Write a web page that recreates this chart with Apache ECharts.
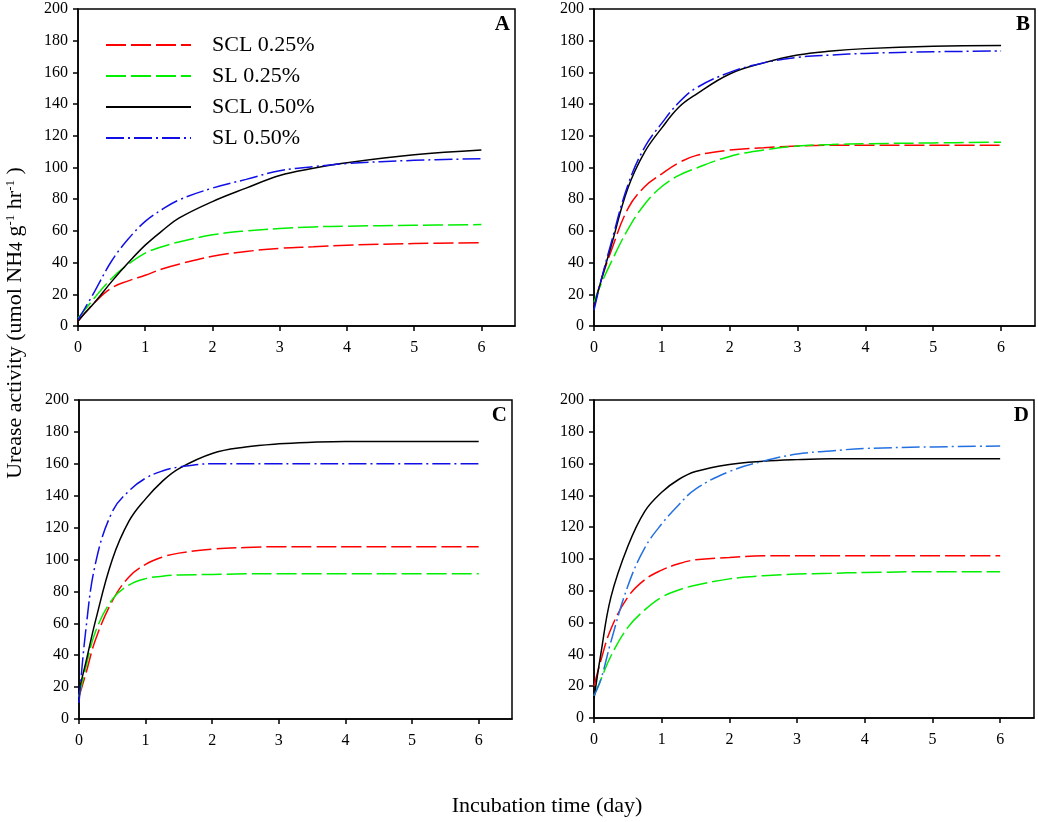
<!DOCTYPE html>
<html>
<head>
<meta charset="utf-8">
<script src="https://cdn.jsdelivr.net/npm/echarts@6/dist/echarts.min.js"></script>
<style>
  html, body { margin: 0; padding: 0; background: #fff; }
  #chart { width: 1038px; height: 822px; }
</style>
</head>
<body>
<div id="chart"></div>
<script>
// sampling days shared by every curve
var days = [0, 0.1, 0.25, 0.5, 0.75, 1, 1.25, 1.5, 2, 2.5, 3, 3.5, 4, 5, 6];
var xTicks = [0, 1, 2, 3, 4, 5, 6];
var names = ['SCL 0.25%', 'SL 0.25%', 'SCL 0.50%', 'SL 0.50%'];
var panelLetters = ['A', 'B', 'C', 'D'];

// panel A
var aScl25 = [3, 8, 15, 24, 28.5, 32, 36, 39, 44, 47, 49, 50, 51, 52, 52.5];
var aSl25  = [5, 10, 18, 30, 39, 46, 50, 53, 57.5, 60, 61.5, 62.5, 63, 63.5, 64];
var aScl50 = [3, 8, 15, 28, 40, 51, 60, 68, 78.5, 87, 95, 99.5, 103, 108, 111];
var aSl50  = [4, 11, 22, 41, 55, 66, 73.5, 79.5, 87, 92.5, 98, 100.5, 102.5, 104.5, 105.5];
// panel B
var bScl25 = [13, 28, 47, 74, 88, 96, 103, 107.5, 111, 112.5, 113.5, 114, 114, 114, 114];
var bSl25  = [15, 26, 40, 61, 77, 88, 95, 99.5, 107, 111, 113.5, 114.5, 115, 115.5, 116];
var bScl50 = [12, 28, 50, 87, 110, 125, 138, 146, 159, 166, 171, 173.5, 175, 176.5, 177];
var bSl50  = [10, 28, 52, 89, 113, 128, 141, 150, 160, 166, 169.5, 171, 172, 173, 173.5];
// panel C
var cScl25 = [14, 28, 50, 74, 89, 97, 101.5, 104, 106.5, 107.5, 108, 108, 108, 108, 108];
var cSl25  = [14, 32, 55, 75, 84, 88, 89.5, 90.3, 90.6, 91, 91, 91, 91, 91, 91];
var cScl50 = [18, 35, 62, 100, 124, 138, 149, 157, 166.5, 170.5, 172.5, 173.5, 174, 174, 174];
var cSl50  = [10, 55, 98, 130, 143, 151, 155.5, 158, 160, 160, 160, 160, 160, 160, 160];
// panel D
var dScl25 = [20, 36, 56, 76, 87, 93, 97, 99.5, 101, 102, 102, 102, 102, 102, 102];
var dSl25  = [14, 24, 39, 57, 68, 76, 80.5, 83.5, 87.5, 89.5, 90.5, 91, 91.5, 92, 92];
var dScl50 = [12, 40, 76, 108, 130, 142, 150, 155, 159.5, 161.5, 162.5, 163, 163, 163, 163];
var dSl50  = [14, 24, 48, 83, 107, 122, 134, 144, 155, 161.5, 166, 168, 169.5, 170.5, 171];

var panels = [
  [aScl25, aSl25, aScl50, aSl50],
  [bScl25, bSl25, bScl50, bSl50],
  [cScl25, cSl25, cScl50, cSl50],
  [dScl25, dSl25, dScl50, dSl50]
];

var serif = "'Liberation Serif', 'Times New Roman', serif";

// plot boxes in pixels
var grids = [
  { left: 78,  top: 9,   width: 437, height: 317 },
  { left: 594, top: 9,   width: 441, height: 317 },
  { left: 79,  top: 400, width: 433, height: 319 },
  { left: 594, top: 400, width: 440, height: 318 }
];

var styles = [
  { color: '#ff0000', type: [20, 5] },
  { color: '#00ee00', type: [20, 5] },
  { color: '#000000', type: 'solid' },
  { color: '#1010e6', type: [18, 4, 2, 4] }
];

var myChart = echarts.init(document.getElementById('chart'));

var option = {
  animation: false,
  legend: {
    orient: 'vertical',
    left: 100,
    top: 29,
    itemWidth: 85,
    itemHeight: 14,
    itemGap: 9,
    data: names,
    itemStyle: { opacity: 0 },
    textStyle: { fontFamily: serif, fontSize: 22, color: '#000', padding: [0, 0, 0, 16] }
  },
  grid: grids.map(function (g) {
    return { left: g.left, top: g.top, width: g.width, height: g.height,
      show: true, borderColor: '#000', borderWidth: 1.5, backgroundColor: 'transparent' };
  }),
  xAxis: grids.map(function (g, i) {
    return {
      type: 'value', gridIndex: i, min: 0, max: 6.5, interval: 1,
      splitLine: { show: false },
      axisLine: { onZero: false, lineStyle: { color: '#000', width: 1.5 } },
      axisTick: { customValues: xTicks, length: 5, lineStyle: { color: '#000', width: 1.5 } },
      axisLabel: { customValues: xTicks, margin: 14, fontFamily: serif, fontSize: 16, color: '#000' }
    };
  }),
  yAxis: grids.map(function (g, i) {
    return {
      type: 'value', gridIndex: i, min: 0, max: 200, interval: 20,
      splitLine: { show: false },
      axisLine: { show: true, lineStyle: { color: '#000', width: 1.5 } },
      axisTick: { show: true, length: 5, lineStyle: { color: '#000', width: 1.5 } },
      axisLabel: { margin: 10, fontFamily: serif, fontSize: 16, color: '#000' }
    };
  }),
  series: [],
  graphic: [
    {
      type: 'text', x: 15, y: 323, rotation: Math.PI / 2,
      style: {
        text: 'Urease activity (umol NH{sub|4} g{sup|-1} hr{sup|-1} )',
        font: '22px ' + serif, fill: '#000', align: 'center', verticalAlign: 'middle',
        rich: {
          sup: { fontSize: 13, fontFamily: serif, verticalAlign: 'top' },
          sub: { fontSize: 18, fontFamily: serif, verticalAlign: 'bottom' }
        }
      }
    },
    {
      type: 'text', x: 547, y: 806,
      style: { text: 'Incubation time (day)', font: '22px ' + serif, fill: '#000',
        align: 'center', verticalAlign: 'middle' }
    }
  ]
};

grids.forEach(function (g, i) {
  option.graphic.push({
    type: 'text', x: g.left + g.width - 5, y: g.top + 16,
    style: { text: panelLetters[i], font: 'bold 21px ' + serif, fill: '#000',
      align: 'right', verticalAlign: 'middle' }
  });
  panels[i].forEach(function (vals, k) {
    option.series.push({
      name: names[k],
      type: 'line',
      xAxisIndex: i,
      yAxisIndex: i,
      smooth: 0.4,
      symbol: 'none',
      data: days.map(function (d, j) { return [d, vals[j]]; }),
      lineStyle: {
        color: (i === 3 && k === 3) ? '#2470e0' : styles[k].color,
        type: styles[k].type,
        width: 1.5
      },
      itemStyle: { color: styles[k].color }
    });
  });
});

myChart.setOption(option);
window.addEventListener('resize', function () { myChart.resize(); });
</script>
</body>
</html>
